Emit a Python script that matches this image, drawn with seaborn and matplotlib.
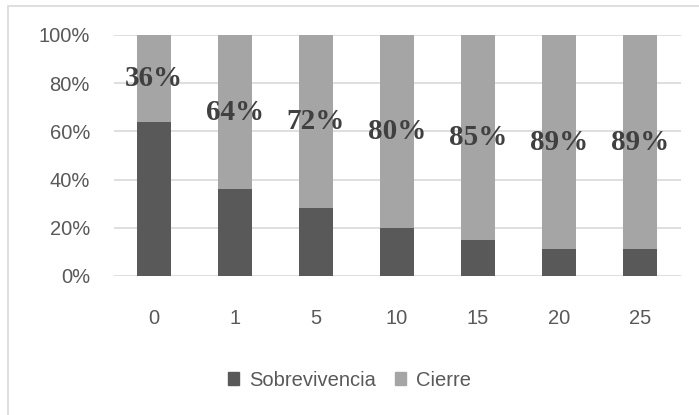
import matplotlib
matplotlib.use("Agg")
import matplotlib.pyplot as plt
import seaborn as sns
import pandas as pd
from matplotlib.patches import Patch, Rectangle
from matplotlib.ticker import PercentFormatter
from matplotlib.font_manager import FontProperties

# --- Data ---
years = ["0", "1", "5", "10", "15", "20", "25"]
sobrevivencia = [64, 36, 28, 20, 15, 11, 11]
cierre = [36, 64, 72, 80, 85, 89, 89]

DARK = "#595959"
LIGHT = "#a5a5a5"
TXT = "#595959"

df = pd.DataFrame({"year": years, "Sobrevivencia": sobrevivencia, "Cierre": cierre})
df["total"] = df["Sobrevivencia"] + df["Cierre"]

sns.set_theme(style="white")
plt.rcParams["font.family"] = ["Liberation Sans", "DejaVu Sans"]

fig = plt.figure(figsize=(6.99, 4.15), dpi=100)
ax = fig.add_axes([0.1624, 0.335, 0.8112, 0.5807])

# stacked: full height in light colour, survival drawn over it
sns.barplot(data=df, x="year", y="total", color=LIGHT, width=0.41, saturation=1,
            linewidth=0, ax=ax, zorder=3)
sns.barplot(data=df, x="year", y="Sobrevivencia", color=DARK, width=0.41, saturation=1,
            linewidth=0, ax=ax, zorder=4)

label_font = FontProperties(family=["Liberation Serif", "DejaVu Serif"], weight="bold", size=21)
for i, (s, c) in enumerate(zip(sobrevivencia, cierre)):
    ax.text(i, s + c / 2, f"{c}%", ha="center", va="center", fontproperties=label_font,
            color="#404040", zorder=5)

ax.set_ylim(0, 100)
ax.set_xlim(-0.5, len(years) - 0.5)
ax.set_yticks(range(0, 101, 20))
ax.yaxis.set_major_formatter(PercentFormatter(decimals=0))
ax.grid(axis="y", color="#d9d9d9", lw=1.2, zorder=0)
ax.set_axisbelow(True)
for sp in ax.spines.values():
    sp.set_visible(False)
ax.set_xlabel("")
ax.set_ylabel("")
ax.tick_params(axis="both", length=0, labelsize=14.5, colors=TXT)
ax.tick_params(axis="x", pad=24)
ax.tick_params(axis="y", pad=17)

handles = [Patch(color=DARK, label="Sobrevivencia"), Patch(color=LIGHT, label="Cierre")]
leg = fig.legend(handles=handles, loc="center", bbox_to_anchor=(0.5, 0.084), ncol=2, frameon=False,
                 fontsize=14.5, handlelength=0.55, handleheight=0.55, handletextpad=0.5,
                 columnspacing=0.9)
for t in leg.get_texts():
    t.set_color(TXT)

# outer chart border
fig.patches.append(Rectangle((8 / 699, -0.1), 1.1, 1.1 - 6 / 415, transform=fig.transFigure,
                             fill=False, edgecolor="#d9d9d9", lw=1.2))

fig.savefig("out.png", dpi=100)
